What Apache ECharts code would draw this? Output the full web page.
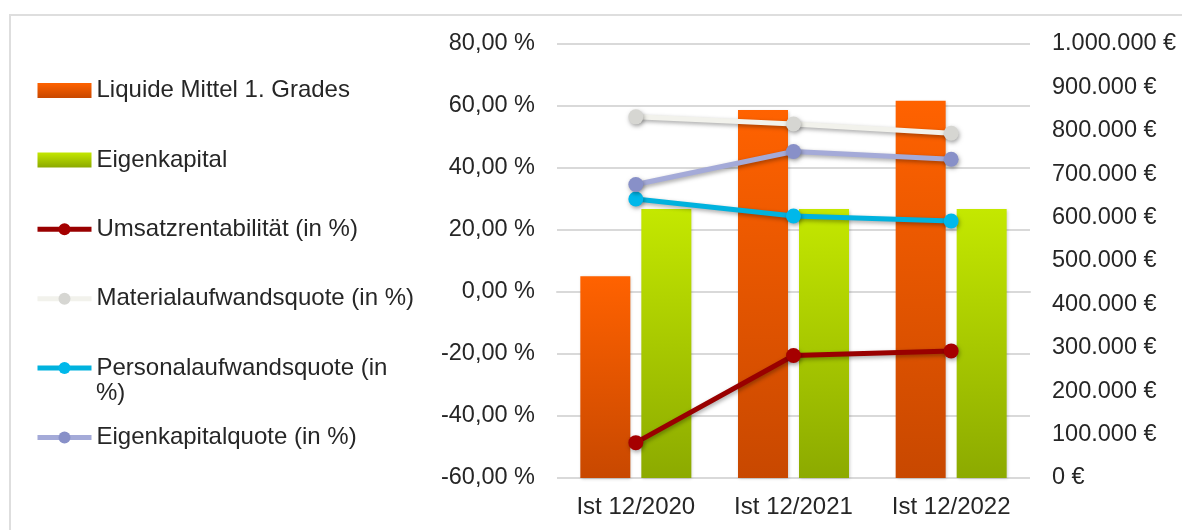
<!DOCTYPE html>
<html>
<head>
<meta charset="utf-8">
<style>
html,body{margin:0;padding:0;background:#fff;}
#chart{width:1182px;height:530px;}
</style>
<script src="https://cdn.jsdelivr.net/npm/echarts@6/dist/echarts.min.js"></script>
</head>
<body>
<div id="chart"></div>
<script>
const categories = ['Ist 12/2020', 'Ist 12/2021', 'Ist 12/2022'];
const liquideMittel = [465000, 848000, 869000];
const eigenkapital = [620000, 620000, 620000];
const umsatzrentabilitaet = [-48.6, -20.5, -19.0];
const materialquote = [56.5, 54.2, 51.2];
const personalquote = [30.0, 24.5, 22.9];
const eigenkapitalquote = [34.7, 45.3, 42.8];
const seriesNames = ['Liquide Mittel 1. Grades', 'Eigenkapital', 'Umsatzrentabilität (in %)', 'Materialaufwandsquote (in %)', 'Personalaufwandsquote (in %)', 'Eigenkapitalquote (in %)'];

const FONT = '"Liberation Sans", Arial, sans-serif';
const TXT = '#262626';
const FS_LEG = 24;
const FS_X = 24;
const FS_Y = 23.5;

function pct(v){ return v.toFixed(2).replace('.', ',') + ' %'; }
function eur(v){ return String(Math.round(v)).replace(/\B(?=(\d{3})+(?!\d))/g, '.') + ' €'; }

function grad(top, bottom){
  return new echarts.graphic.LinearGradient(0,0,0,1,[{offset:0,color:top},{offset:1,color:bottom}]);
}
const lineShadow = {shadowColor:'rgba(0,0,0,0.35)', shadowBlur:4, shadowOffsetY:2, shadowOffsetX:1};

function lineSeries(name, data, lineColor, symColor){
  return {
    name, type:'line', yAxisIndex:0, data,
    symbol:'circle', symbolSize:15, z:5,
    lineStyle:Object.assign({color:lineColor, width:5}, lineShadow),
    itemStyle:Object.assign({color:symColor}, lineShadow),
    emphasis:{disabled:true}
  };
}

const chart = echarts.init(document.getElementById('chart'), null, {renderer:'canvas'});
chart.setOption({
  animation:false,
  backgroundColor:'#fff',
  textStyle:{fontFamily:FONT},
  graphic:[
    {type:'rect', shape:{x:10, y:15, width:1300, height:700}, style:{fill:null, stroke:'#dedede', lineWidth:2}, silent:true, z:-1},
    {type:'text', left:96, top:381, style:{text:'%)', font:FS_LEG + 'px ' + FONT, fill:TXT}, silent:true}
  ],
  legend:{
    orient:'vertical', left:30, top:73,
    itemWidth:54, itemHeight:15, itemGap:44.4,
    selectedMode:false,
    lineStyle:{width:5},
    data:seriesNames.map(function(n, i){ return i < 2 ? {name:n, icon:'rect'} : {name:n}; }),
    formatter:function(n){ return n === 'Personalaufwandsquote (in %)' ? 'Personalaufwandsquote (in' : n; },
    textStyle:{fontSize:FS_LEG, color:TXT, fontFamily:FONT, lineHeight:25}
  },
  grid:{left:557, right:152, top:44, bottom:52},
  xAxis:{
    type:'category', data:categories,
    axisLine:{show:true, lineStyle:{color:'#d9d9d9', width:2}},
    axisTick:{show:false},
    axisLabel:{fontSize:FS_X, color:TXT, margin:17, fontFamily:FONT}
  },
  yAxis:[
    {type:'value', min:-60, max:80, interval:20,
     axisLine:{show:false}, axisTick:{show:false},
     splitLine:{lineStyle:{color:'#d9d9d9', width:2}},
     axisLabel:{fontSize:FS_Y, color:TXT, margin:22, fontFamily:FONT, formatter:pct}},
    {type:'value', min:0, max:1000000, interval:100000, position:'right',
     axisLine:{show:false}, axisTick:{show:false}, splitLine:{show:false},
     axisLabel:{fontSize:FS_Y, color:TXT, margin:22, fontFamily:FONT, formatter:eur}}
  ],
  series:[
    {name:seriesNames[0], type:'bar', yAxisIndex:1, data:liquideMittel, barWidth:50, barGap:'22%',
     itemStyle:{color:grad('#ff6200','#c84800'), shadowColor:'rgba(0,0,0,0.2)', shadowBlur:3, shadowOffsetX:1, shadowOffsetY:1},
     emphasis:{disabled:true}},
    {name:seriesNames[1], type:'bar', yAxisIndex:1, data:eigenkapital, barWidth:50, barGap:'22%',
     itemStyle:{color:grad('#c4e800','#8caa00'), shadowColor:'rgba(0,0,0,0.2)', shadowBlur:3, shadowOffsetX:1, shadowOffsetY:1},
     emphasis:{disabled:true}},
    lineSeries(seriesNames[2], umsatzrentabilitaet, '#990000', '#a50000'),
    lineSeries(seriesNames[3], materialquote, '#f2f2ec', '#d6d6d2'),
    lineSeries(seriesNames[4], personalquote, '#00b2de', '#00b8ea'),
    lineSeries(seriesNames[5], eigenkapitalquote, '#a4aad8', '#8890c8')
  ]
});
</script>
</body>
</html>
